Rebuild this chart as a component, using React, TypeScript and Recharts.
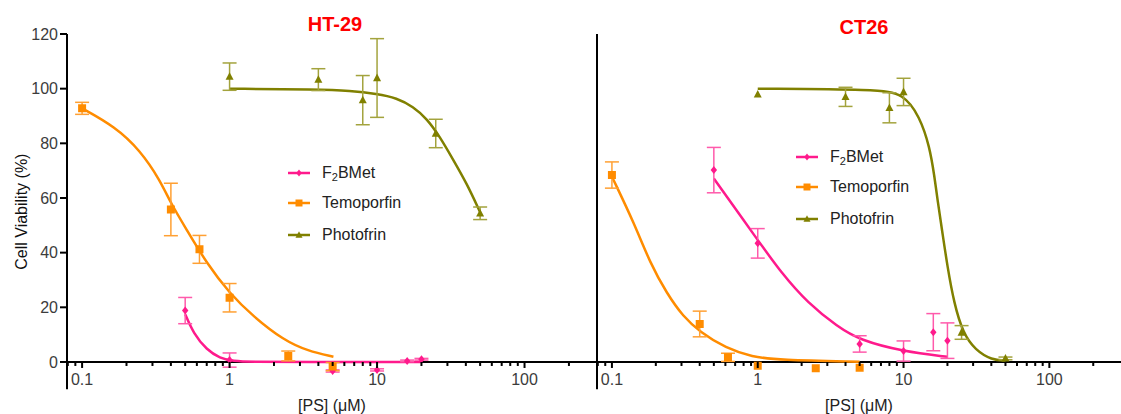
import React from "react";
import {
  ComposedChart,
  Line,
  Scatter,
  ErrorBar,
  XAxis,
  YAxis,
  ReferenceLine,
} from "recharts";

const PINK = "#ff1a8c";
const PINK_ERR = "#ff5aab";
const ORANGE = "#ff8c00";
const ORANGE_ERR = "#ffa033";
const OLIVE = "#808000";
const OLIVE_ERR = "#a3a33d";

// x ticks (log axis), labels only on decades
const X_MAJOR = [0.1, 1, 10, 100];
const X_TICKS = [
  0.08, 0.09, 0.1, 0.2, 0.3, 0.4, 0.5, 0.6, 0.7, 0.8, 0.9, 1, 2, 3, 4, 5, 6, 7,
  8, 9, 10, 20, 30, 40, 50, 60, 70, 80, 90, 100, 200,
];
const Y_TICKS = [0, 20, 40, 60, 80, 100, 120];

// HT-29 measured points (x = concentration uM, y = viability %, e = SD)
const HT29_F2BMET = [
  { x: 0.5, y: 18.8, e: 4.8 },
  { x: 1, y: 0.7, e: 2.6 },
  { x: 5, y: -3.3, e: 0.4 },
  { x: 10, y: -2.9, e: 0.4 },
  { x: 16, y: 0.4, e: 0.3 },
  { x: 20, y: 1.0, e: 0.3 },
];
const HT29_TEMO = [
  { x: 0.1, y: 92.8, e: 2.2 },
  { x: 0.4, y: 55.8, e: 9.6 },
  { x: 0.625, y: 41.2, e: 5.1 },
  { x: 1, y: 23.5, e: 5.2 },
  { x: 2.5, y: 2.2, e: 1.8 },
  { x: 5, y: -1.7, e: 1.5 },
];
const HT29_PHOTO = [
  { x: 1, y: 104.4, e: 5 },
  { x: 4, y: 103.3, e: 4 },
  { x: 8, y: 95.8, e: 9 },
  { x: 10, y: 103.9, e: 14.4 },
  { x: 25, y: 83.6, e: 5.2 },
  { x: 50, y: 54.4, e: 2.3 },
];

// HT-29 fitted curves
const HT29_F2BMET_FIT = [
  { x: 0.5, y: 17.5 },
  { x: 0.568, y: 10.5 },
  { x: 0.7, y: 4.4 },
  { x: 0.86, y: 1.4 },
  { x: 1.06, y: 0.3 },
  { x: 1.4, y: 0.05 },
  { x: 3, y: 0 },
  { x: 20, y: 0 },
];
const HT29_TEMO_FIT = [
  { x: 0.1, y: 92.8 },
  { x: 0.167, y: 86.1 },
  { x: 0.247, y: 77.5 },
  { x: 0.338, y: 66.5 },
  { x: 0.4, y: 58 },
  { x: 0.513, y: 48.3 },
  { x: 0.7, y: 36.1 },
  { x: 1, y: 25.1 },
  { x: 1.45, y: 16.6 },
  { x: 2.32, y: 8.0 },
  { x: 3.4, y: 4.0 },
  { x: 5.06, y: 1.9 },
];
const HT29_PHOTO_FIT = [
  { x: 1, y: 100 },
  { x: 4, y: 99.7 },
  { x: 6.56, y: 99.2 },
  { x: 10, y: 98.1 },
  { x: 13.6, y: 96.6 },
  { x: 17.6, y: 93.4 },
  { x: 21.7, y: 89.1 },
  { x: 26.7, y: 82.4 },
  { x: 32.9, y: 73.9 },
  { x: 40.6, y: 65.3 },
  { x: 50, y: 54.8 },
];

// CT26 measured points
const CT26_F2BMET = [
  { x: 0.5, y: 70.2, e: 8.3 },
  { x: 1, y: 43.4, e: 5.4 },
  { x: 5, y: 6.6, e: 3 },
  { x: 10, y: 4.0, e: 3.7 },
  { x: 16, y: 10.9, e: 6.8 },
  { x: 20, y: 7.8, e: 6.5 },
];
const CT26_TEMO = [
  { x: 0.1, y: 68.4, e: 4.8 },
  { x: 0.4, y: 13.9, e: 4.7 },
  { x: 0.625, y: 1.7, e: 1.5 },
  { x: 1, y: -1.4, e: 0 },
  { x: 2.5, y: -2.3, e: 0 },
  { x: 5, y: -2.1, e: 0 },
];
const CT26_PHOTO = [
  { x: 1, y: 97.9, e: 0 },
  { x: 4, y: 97, e: 3.5 },
  { x: 8, y: 93, e: 5.5 },
  { x: 10, y: 98.8, e: 5 },
  { x: 25, y: 10.8, e: 2.5 },
  { x: 50, y: 1.3, e: 0.5 },
];

// CT26 fitted curves
const CT26_F2BMET_FIT = [
  { x: 0.5, y: 67.1 },
  { x: 1, y: 44.6 },
  { x: 1.46, y: 32.4 },
  { x: 2.21, y: 21.5 },
  { x: 3.53, y: 12.9 },
  { x: 5, y: 8.0 },
  { x: 10, y: 3.8 },
  { x: 20, y: 1.9 },
];
const CT26_TEMO_FIT = [
  { x: 0.1, y: 67.8 },
  { x: 0.142, y: 50.8 },
  { x: 0.183, y: 36.1 },
  { x: 0.238, y: 25.1 },
  { x: 0.308, y: 16.6 },
  { x: 0.4, y: 11.1 },
  { x: 0.605, y: 5.0 },
  { x: 0.915, y: 1.9 },
  { x: 1.39, y: 0.7 },
  { x: 5, y: 0.1 },
];
const CT26_PHOTO_FIT = [
  { x: 1, y: 100 },
  { x: 6.6, y: 99.7 },
  { x: 10, y: 98.2 },
  { x: 12.9, y: 89.8 },
  { x: 15.1, y: 78.8 },
  { x: 16.3, y: 67.8 },
  { x: 17.1, y: 59.3 },
  { x: 18.5, y: 47.1 },
  { x: 20, y: 34.9 },
  { x: 22.2, y: 21.5 },
  { x: 25.6, y: 10.5 },
  { x: 31, y: 4.4 },
  { x: 40.4, y: 0.7 },
  { x: 50, y: 0.5 },
];

const H = 414;
const TOP = 34;
const X_AXIS_H = 24.7;
const Y_AXIS_W = 67;
const PLOT_H = H - TOP - X_AXIS_H;
// distance from bottom of plot (y = -10) up to y = 0
const ZERO_OFF = (PLOT_H * 10) / 130;

type Shape = "diamond" | "square" | "triangle";

function markerPath(shape: Shape, cx: number, cy: number, s: number) {
  if (shape === "diamond")
    return `M${cx},${cy - s}L${cx + s * 0.8},${cy}L${cx},${cy + s}L${cx - s * 0.8},${cy}Z`;
  if (shape === "square")
    return `M${cx - s},${cy - s}H${cx + s}V${cy + s}H${cx - s}Z`;
  return `M${cx},${cy - s * 1.1}L${cx + s},${cy + s * 0.8}L${cx - s},${cy + s * 0.8}Z`;
}

const Marker = (shape: Shape, color: string, s: number) => (props: any) => {
  const { cx, cy } = props;
  if (cx == null || cy == null) return null;
  return <path d={markerPath(shape, cx, cy, s)} fill={color} stroke="none" />;
};

function LogTick(props: any) {
  const { x, y, payload } = props;
  const v = payload.value;
  const major = X_MAJOR.includes(v);
  const y0 = y - ZERO_OFF;
  return (
    <g>
      <line x1={x} x2={x} y1={y0} y2={y0 + (major ? 6 : 4)} stroke="#000" strokeWidth={2} />
      {major && (
        <text x={x} y={y0 + 23} textAnchor="middle" fontSize={16} fill="#3c3c3c">
          {v}
        </text>
      )}
    </g>
  );
}

const SERIES = [
  { key: "f2bmet", color: PINK, shape: "diamond" as Shape },
  { key: "temo", color: ORANGE, shape: "square" as Shape },
  { key: "photo", color: OLIVE, shape: "triangle" as Shape },
];

function LegendBox({ left, top }: { left: number; top: number }) {
  const rowY = [0, 30, 62];
  const labels = [
    <span key="a">
      F<sub style={{ fontSize: 11, verticalAlign: "-3px" }}>2</sub>BMet
    </span>,
    <span key="b">Temoporfin</span>,
    <span key="c">Photofrin</span>,
  ];
  return (
    <div style={{ position: "absolute", left, top }}>
      {SERIES.map((s, i) => (
        <div
          key={s.key}
          style={{
            position: "absolute",
            left: 0,
            top: rowY[i] - 11,
            height: 22,
            display: "flex",
            alignItems: "center",
            whiteSpace: "nowrap",
          }}
        >
          <svg width={24} height={12} style={{ display: "block" }}>
            <line x1={1} x2={23} y1={6} y2={6} stroke={s.color} strokeWidth={2.5} />
            <path d={markerPath(s.shape, 12, 6, 3.5)} fill={s.color} />
          </svg>
          <span style={{ marginLeft: 11, fontSize: 16, color: "#222" }}>{labels[i]}</span>
        </div>
      ))}
    </div>
  );
}

function YLabel(props: any) {
  const vb = props.viewBox || { y: TOP, height: PLOT_H };
  const cy = vb.y + vb.height / 2;
  return (
    <text
      x={22}
      y={cy}
      transform={`rotate(-90, 22, ${cy})`}
      textAnchor="middle"
      dominantBaseline="central"
      fontSize={16}
      fill="#111"
    >
      Cell Viability (%)
    </text>
  );
}

function XLabel(props: any) {
  const vb = props.viewBox;
  if (!vb) return null;
  return (
    <text x={vb.x + vb.width / 2} y={H - 3} textAnchor="middle" fontSize={16} fill="#222">
      [PS] (μM)
    </text>
  );
}

type Pt = { x: number; y: number; e?: number };

function Panel(props: {
  width: number;
  showYLabels: boolean;
  points: Pt[][];
  fits: Pt[][];
}) {
  const { width, showYLabels, points, fits } = props;
  const errColors = [PINK_ERR, ORANGE_ERR, OLIVE_ERR];
  return (
    <ComposedChart
      width={width}
      height={H}
      margin={{ top: TOP, right: 0, bottom: 0, left: 0 }}
    >
      <XAxis
        type="number"
        dataKey="x"
        scale="log"
        domain={[0.079, 310]}
        allowDataOverflow
        ticks={X_TICKS}
        interval={0}
        axisLine={false}
        tickLine={false}
        tickSize={0}
        tickMargin={0}
        height={X_AXIS_H}
        tick={<LogTick />}
        label={<XLabel />}
      />
      <YAxis
        type="number"
        domain={[-10, 120]}
        allowDataOverflow
        ticks={Y_TICKS}
        interval={0}
        width={Y_AXIS_W}
        axisLine={{ stroke: "#000", strokeWidth: 2 }}
        tickLine={{ stroke: "#000", strokeWidth: 2 }}
        tickSize={7}
        tickMargin={2}
        tick={showYLabels ? { fontSize: 16, fill: "#3c3c3c" } : false}
        label={showYLabels ? <YLabel /> : undefined}
      />
      <ReferenceLine y={0} stroke="#000" strokeWidth={2} />
      {fits.map((f, i) => (
        <Line
          key={"fit" + i}
          data={f}
          dataKey="y"
          type="basis"
          stroke={SERIES[i].color}
          strokeWidth={2.5}
          dot={false}
          activeDot={false}
          isAnimationActive={false}
        />
      ))}
      {points.map((p, i) => (
        <Scatter
          key={"pts" + i}
          data={p}
          dataKey="y"
          shape={Marker(SERIES[i].shape, SERIES[i].color, 4)}
          isAnimationActive={false}
        >
          <ErrorBar
            dataKey="e"
            direction="y"
            width={7}
            stroke={errColors[i]}
            strokeWidth={1.5}
            isAnimationActive={false}
          />
        </Scatter>
      ))}
    </ComposedChart>
  );
}

const titleStyle: React.CSSProperties = {
  position: "absolute",
  width: 140,
  textAlign: "center",
  fontSize: 20,
  lineHeight: "20px",
  fontWeight: "bold",
  color: "#ff0000",
};

export default function App() {
  return (
    <div
      style={{
        position: "absolute",
        left: 0,
        top: 0,
        width: 1121,
        height: H,
        background: "#fff",
        overflow: "hidden",
        fontFamily: "'Liberation Sans', Arial, sans-serif",
      }}
    >
      <div style={{ position: "absolute", left: 0, top: 0 }}>
        <Panel
          width={597}
          showYLabels
          points={[HT29_F2BMET, HT29_TEMO, HT29_PHOTO]}
          fits={[HT29_F2BMET_FIT, HT29_TEMO_FIT, HT29_PHOTO_FIT]}
        />
      </div>
      <div style={{ position: "absolute", left: 530, top: 0 }}>
        <Panel
          width={591}
          showYLabels={false}
          points={[CT26_F2BMET, CT26_TEMO, CT26_PHOTO]}
          fits={[CT26_F2BMET_FIT, CT26_TEMO_FIT, CT26_PHOTO_FIT]}
        />
      </div>
      <div style={{ ...titleStyle, left: 335 - 70, top: 13.5 }}>HT-29</div>
      <div style={{ ...titleStyle, left: 864 - 70, top: 17 }}>CT26</div>
      <LegendBox left={287} top={173} />
      <LegendBox left={795} top={157} />
    </div>
  );
}
